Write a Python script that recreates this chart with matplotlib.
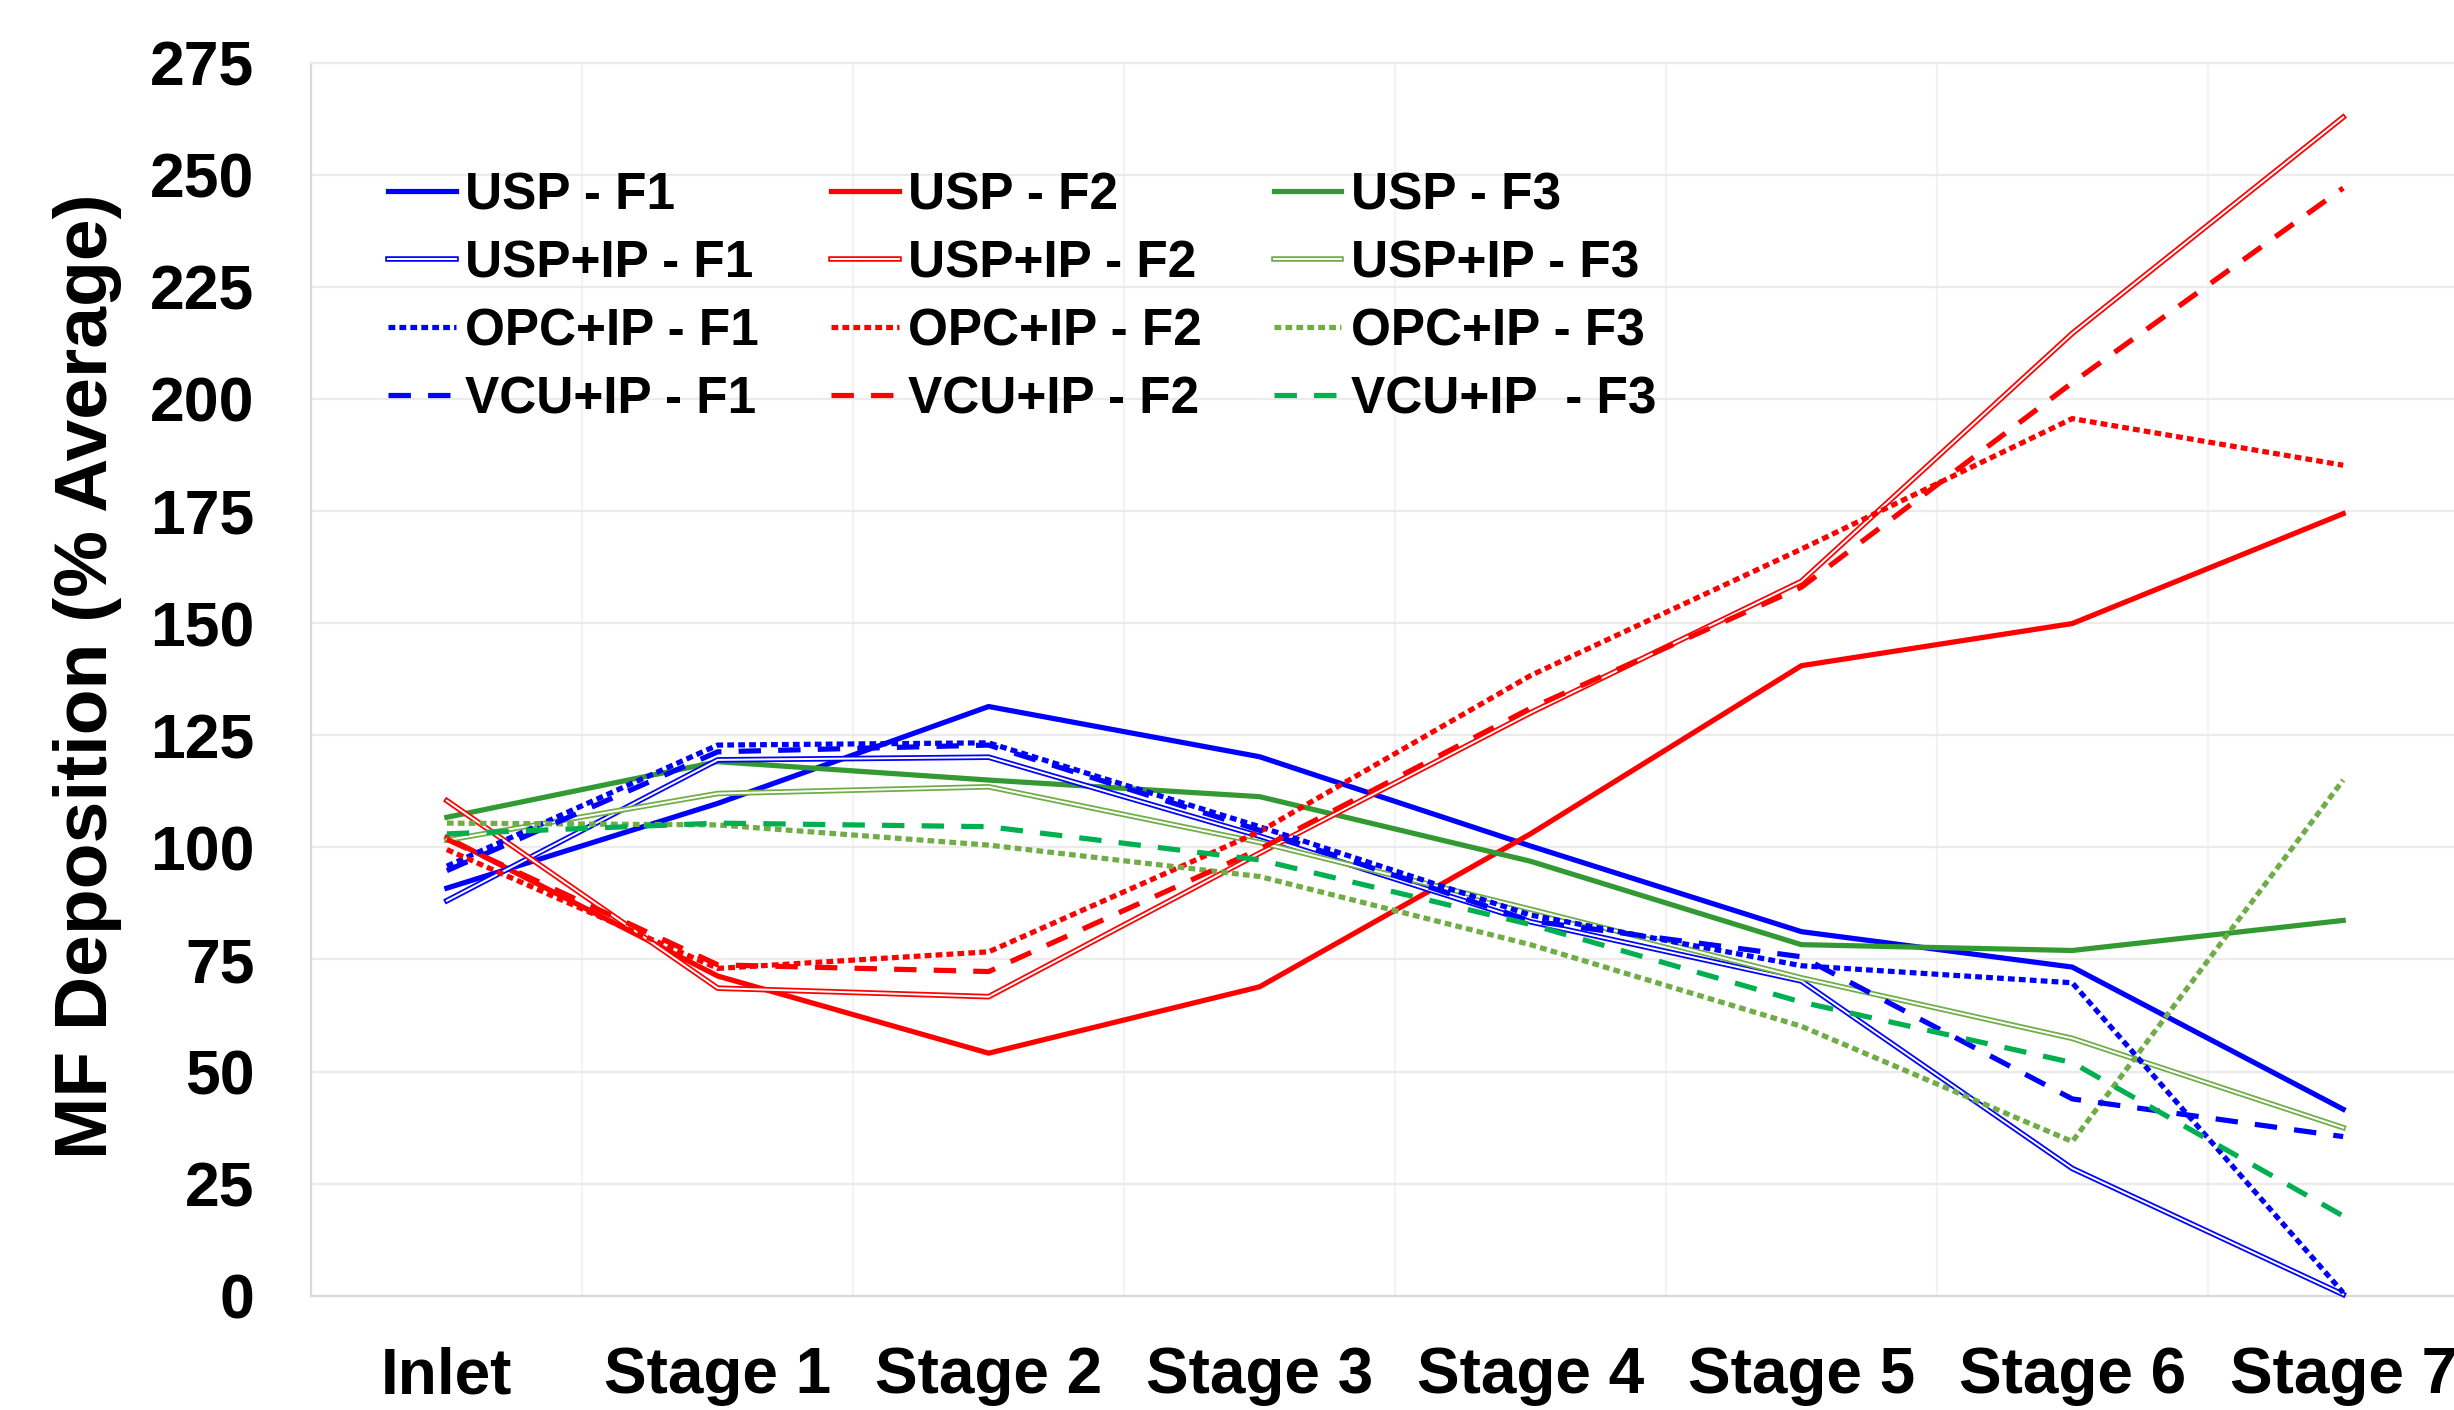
import matplotlib
matplotlib.use('Agg')
import matplotlib.pyplot as plt
import numpy as np
from matplotlib.legend_handler import HandlerTuple

# ---------------- data ----------------
categories = ['Inlet', 'Stage 1', 'Stage 2', 'Stage 3', 'Stage 4', 'Stage 5', 'Stage 6', 'Stage 7']
yticks = list(range(0, 276, 25))

usp_f1 = [90.9, 109.8, 131.4, 120.2, 100.3, 81.2, 73.3, 41.6]
usp_f2 = [102.2, 71.3, 54.1, 68.9, 103.0, 140.5, 149.9, 174.4]
usp_f3 = [106.7, 119.1, 115.0, 111.3, 96.9, 78.3, 77.0, 83.7]
uspip_f1 = [88.1, 119.5, 120.1, 102.5, 83.4, 70.2, 28.4, 0.3]
uspip_f2 = [110.4, 68.6, 66.7, 98.7, 130.0, 159.3, 214.6, 262.8]
uspip_f3 = [101.6, 112.0, 113.5, 101.1, 86.2, 70.9, 57.4, 37.5]
opcip_f1 = [95.8, 122.8, 123.3, 104.6, 84.9, 73.6, 69.8, 0.7]
opcip_f2 = [99.5, 73.0, 76.7, 103.5, 138.3, 166.5, 195.6, 185.2]
opcip_f3 = [105.4, 105.0, 100.5, 93.5, 78.3, 60.1, 34.4, 115.0]
vcuip_f1 = [94.8, 121.3, 122.8, 103.8, 83.6, 75.6, 43.9, 35.5]
vcuip_f2 = [101.8, 73.8, 72.3, 99.6, 131.0, 158.0, 203.6, 247.0]
vcuip_f3 = [103.0, 105.4, 104.6, 97.2, 82.8, 65.5, 52.0, 17.8]

labels = ['USP - F1', 'USP - F2', 'USP - F3',
          'USP+IP - F1', 'USP+IP - F2', 'USP+IP - F3',
          'OPC+IP - F1', 'OPC+IP - F2', 'OPC+IP - F3',
          'VCU+IP - F1', 'VCU+IP - F2', 'VCU+IP  - F3']
series = [usp_f1, usp_f2, usp_f3, uspip_f1, uspip_f2, uspip_f3,
          opcip_f1, opcip_f2, opcip_f3, vcuip_f1, vcuip_f2, vcuip_f3]

# ---------------- styles ----------------
BLUE = '#0000FF'
RED = '#FF0000'
GREEN_D = '#339933'
GREEN_L = '#70AD47'
GREEN_B = '#00B050'
colors = [BLUE, RED, GREEN_D, BLUE, RED, GREEN_L, BLUE, RED, GREEN_L, BLUE, RED, GREEN_B]
kinds = ['solid'] * 3 + ['double'] * 3 + ['dot'] * 3 + ['dash'] * 3

LW = 3.75
plt.rcParams['font.family'] = ['Liberation Sans', 'DejaVu Sans']
plt.rcParams['font.weight'] = 'bold'

fig = plt.figure(figsize=(24.54, 14.10), dpi=100)
ax = fig.add_axes([0.12690, 0.08099, 0.88313, 0.87468])
x = np.arange(len(categories))

handles = []
for y, c, k in zip(series, colors, kinds):
    if k == 'solid':
        l, = ax.plot(x, y, color=c, lw=LW, solid_joinstyle='round', clip_on=False, zorder=3)
        handles.append(l)
    elif k == 'double':
        l1, = ax.plot(x, y, color=c, lw=4.0, solid_joinstyle='round', clip_on=False, zorder=3)
        l2, = ax.plot(x, y, color='white', lw=1.45, solid_joinstyle='round', clip_on=False, zorder=3)
        handles.append((l1, l2))
    elif k == 'dot':
        l, = ax.plot(x, y, color=c, lw=LW, linestyle=(0, (1.3, 0.8)), dash_capstyle='butt',
                     clip_on=False, zorder=3)
        handles.append(l)
    else:
        l, = ax.plot(x, y, color=c, lw=LW, linestyle=(0, (4.3, 3.3)), dash_capstyle='butt',
                     clip_on=False, zorder=3)
        handles.append(l)

ax.set_xlim(-0.5, len(categories) - 0.5)
ax.set_ylim(0, 275)
ax.set_yticks(yticks)
ax.set_yticklabels([str(t) for t in yticks], fontsize=45, fontweight='bold')
ax.set_xticks(x)
ax.set_xticklabels(categories, fontsize=46, fontweight='bold')
ax.set_xticks(np.arange(-0.5, len(categories), 1), minor=True)
ax.tick_params(which='both', length=0)
ax.tick_params(axis='y', pad=41)
ax.tick_params(axis='x', pad=36.5)

ax.set_axisbelow(True)
ax.yaxis.grid(True, color='#EBEBEB', lw=1.6)
ax.xaxis.grid(True, which='minor', color='#F3F3F3', lw=1.6)
ax.xaxis.grid(False, which='major')
ax.spines['right'].set_visible(False)
ax.spines['top'].set_color('#EBEBEB')
ax.spines['top'].set_linewidth(1.6)
ax.spines['left'].set_color('#D9D9D9')
ax.spines['left'].set_linewidth(1.6)
ax.spines['bottom'].set_color('#D9D9D9')
ax.spines['bottom'].set_linewidth(1.6)

fig.text(88 / 2454, 1 - 676 / 1410, 'MF Deposition (% Average)', rotation=90,
         ha='center', va='center', fontsize=54, fontweight='bold')

# legend: column-wise order
order = [0, 3, 6, 9, 1, 4, 7, 10, 2, 5, 8, 11]
leg = ax.legend([handles[i] for i in order], [labels[i] for i in order],
                ncol=3, loc='upper left', bbox_to_anchor=(388 / 2454, 1 - 171 / 1410),
                bbox_transform=fig.transFigure, frameon=False, borderpad=0, borderaxespad=0,
                prop={'size': 37, 'weight': 'bold'}, handlelength=1.32, handletextpad=0.18,
                columnspacing=1.4, labelspacing=0.37,
                handler_map={tuple: HandlerTuple(ndivide=1, pad=0)})
leg.set_zorder(5)

fig.savefig('out.png', dpi=100)
